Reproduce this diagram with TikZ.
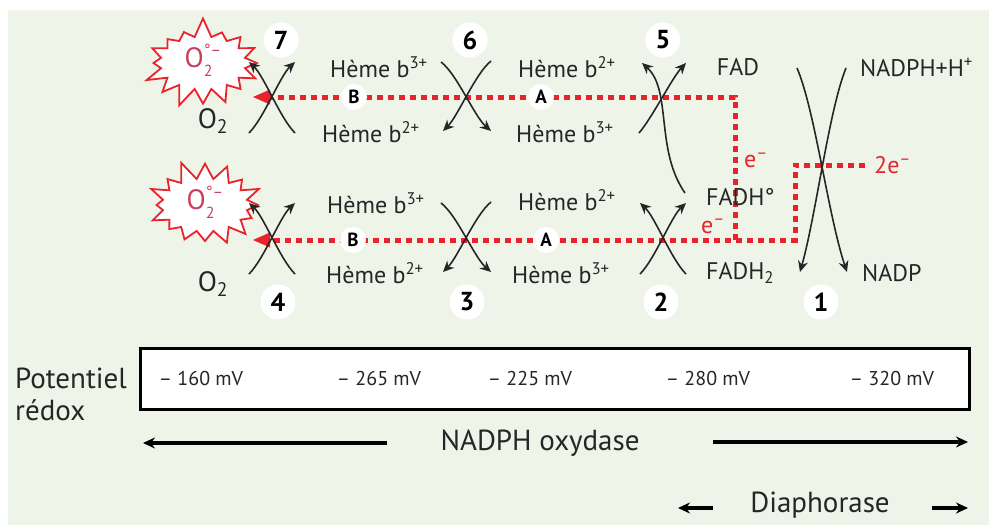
\documentclass[tikz,border=0pt]{standalone}
\usepackage{fontspec}
\setmainfont{PT Sans}
\usetikzlibrary{arrows.meta,shapes.symbols}
\definecolor{bgc}{HTML}{EEF5E8}
\definecolor{redc}{HTML}{E8232B}
\definecolor{txc}{HTML}{262626}
\definecolor{pkc}{HTML}{C9405F}
\newcommand{\superox}{O{\fontsize{16}{16}\selectfont\begin{tabular}[c]{@{}l@{}}°–\\[5pt]2\end{tabular}}}
\begin{document}
\begin{tikzpicture}[x=1pt,y=-1pt,
  txt/.style={text=txc,inner sep=0pt,font=\fontsize{24}{26}\selectfont},
  big/.style={text=txc,inner sep=0pt,font=\fontsize{29}{31}\selectfont},
  mv/.style={text=txc,inner sep=0pt,font=\fontsize{20}{22}\selectfont},
  numc/.style={circle,fill=white,minimum size=35pt,inner sep=0pt,text=black,font=\fontsize{26}{26}\selectfont\bfseries},
  abc/.style={circle,fill=white,minimum size=26pt,inner sep=0pt,text=black,font=\fontsize{19}{19}\selectfont\bfseries},
  xarr/.style={draw=black!85,line width=1.6pt,-{Stealth[length=11pt,width=10pt]}},
  dots/.style={draw=redc,line width=5pt,dash pattern=on 6pt off 5pt},
  rtip/.style={-{Triangle[length=17pt,width=15pt,line width=0pt]}},
  ered/.style={text=redc,inner sep=0pt,font=\fontsize{24}{26}\selectfont},
  burst/.style={starburst,draw=redc,line width=1.8pt,fill=white,starburst points=16,starburst point height=20pt,inner xsep=12pt,inner ysep=0pt,text=pkc,font=\fontsize{28}{30}\selectfont},
  wide/.style={draw=black,line width=3.5pt,-{Stealth[length=12pt,width=11pt]}}
]
\useasboundingbox (0,0) rectangle (989,525);
\fill[white] (0,0) rectangle (989,525);
\fill[bgc] (8,10) rectangle (989,525);

% red electron paths
\coordinate (tTip) at (253,97);
\coordinate (tCorner) at (735,97);
\coordinate (tDown) at (735,240);
\coordinate (bEnd) at (865,165);
\coordinate (bUp) at (795,165);
\coordinate (bCorner) at (795,240);
\coordinate (bTip) at (253,240);
\draw[dots,rtip] (tDown) -- (tCorner) -- (tTip);
\draw[dots,rtip] (bEnd) -- (bUp) -- (bCorner) -- (bTip);

% starbursts
\node[burst,random starburst=7] (s1) at (203,63) {\superox};
\node[burst,random starburst=11] (s2) at (205,205) {\superox};
\node[txt,font=\fontsize{28}{30}\selectfont] (o1) at (213,121) {O\textsubscript{2}};
\node[txt,font=\fontsize{28}{30}\selectfont] (o2) at (213,284) {O\textsubscript{2}};

% A / B markers
\node[abc] (B1) at (354,97) {B};
\node[abc] (A1) at (541,97) {A};
\node[abc] (B2) at (353,240) {B};
\node[abc] (A2) at (546,240) {A};

% cross 7
\draw[xarr] (249,133) .. controls (264,118) and (280,76) .. (295,62);
\draw[xarr] (295,133) .. controls (280,118) and (264,76) .. (249,62);
% cross 4
\draw[xarr] (249,274) .. controls (264,259) and (280,217) .. (295,203);
\draw[xarr] (295,274) .. controls (280,259) and (264,217) .. (249,203);
% cross 6
\draw[xarr] (441,62) .. controls (457,74) and (474,116) .. (491,131);
\draw[xarr] (491,61) .. controls (475,74) and (458,116) .. (443,131);
% cross 3
\draw[xarr] (441,203) .. controls (457,215) and (474,257) .. (491,272);
\draw[xarr] (491,202) .. controls (475,215) and (458,257) .. (443,272);
% cross 5
\draw[xarr] (639,133) .. controls (652,118) and (672,78) .. (686,63);
\draw[xarr] (685,193) .. controls (655,150) and (672,90) .. (642,63);
% cross 2
\draw[xarr] (640,274) .. controls (655,259) and (671,217) .. (686,203);
\draw[xarr] (686,274) .. controls (671,259) and (655,217) .. (640,203);
% cross 1
\draw[xarr] (797,68) .. controls (815,110) and (828,215) .. (847,272);
\draw[xarr] (846,68) .. controls (829,110) and (816,215) .. (800,272);

% step numbers
\node[numc] (n7) at (281,40) {7};
\node[numc] (n6) at (470,40) {6};
\node[numc] (n5) at (663,40) {5};
\node[numc] (n4) at (278,302) {4};
\node[numc] (n3) at (467,302) {3};
\node[numc] (n2) at (661,302) {2};
\node[numc] (n1) at (821,302) {1};

% heme labels
\node[txt,anchor=west] (h1) at (330,67) {Hème b\textsuperscript{3+}};
\node[txt,anchor=west] (h2) at (322,132) {Hème b\textsuperscript{2+}};
\node[txt,anchor=west] (h3) at (518,67) {Hème b\textsuperscript{2+}};
\node[txt,anchor=west] (h4) at (516,132) {Hème b\textsuperscript{3+}};
\node[txt,anchor=west] (h5) at (327,203) {Hème b\textsuperscript{3+}};
\node[txt,anchor=west] (h6) at (326,273) {Hème b\textsuperscript{2+}};
\node[txt,anchor=west] (h7) at (518,200) {Hème b\textsuperscript{2+}};
\node[txt,anchor=west] (h8) at (512,273) {Hème b\textsuperscript{3+}};

% flavin / NADPH labels
\node[txt] (fad) at (738,67) {FAD};
\node[txt,anchor=west] (fadh) at (706,197) {FADH°};
\node[txt,anchor=west] (fadh2) at (706,273) {FADH\textsubscript{2}};
\node[txt,anchor=west] (nadph) at (860,67) {NADPH+H\textsuperscript{+}};
\node[txt,anchor=west] (nadp) at (862,273) {NADP};
\node[ered] (e1) at (756,160) {e\textsuperscript{–}};
\node[ered] (e2) at (713,226) {e\textsuperscript{–}};
\node[ered,anchor=west] (e3) at (874,165) {2e\textsuperscript{–}};

% redox box
\node[draw=black,line width=3pt,fill=white,minimum width=829pt,minimum height=61pt,anchor=north west,inner sep=0pt] (box) at (139,347) {};
\node[mv] (v1) at (201,378) {– 160 mV};
\node[mv] (v2) at (379,378) {– 265 mV};
\node[mv] (v3) at (530,378) {– 225 mV};
\node[mv] (v4) at (708,378) {– 280 mV};
\node[mv] (v5) at (892,378) {– 320 mV};
\node[big,anchor=west] (pot) at (15,378) {Potentiel};
\node[big,anchor=west] (red) at (15,410) {rédox};

% enzyme arrows
\node[big] (nox) at (540,443) {NADPH oxydase};
\coordinate (la) at (387,443);
\coordinate (lb) at (143,443);
\coordinate (ra) at (713,442);
\coordinate (rb) at (968,442);
\draw[wide] (la) -- (lb);
\draw[wide] (ra) -- (rb);
\node[big] (dia) at (820,505) {Diaphorase};
\coordinate (da) at (713,508);
\coordinate (db) at (678,508);
\coordinate (dc) at (932,508);
\coordinate (dd) at (968,508);
\draw[wide] (da) -- (db);
\draw[wide] (dc) -- (dd);
\end{tikzpicture}
\end{document}
